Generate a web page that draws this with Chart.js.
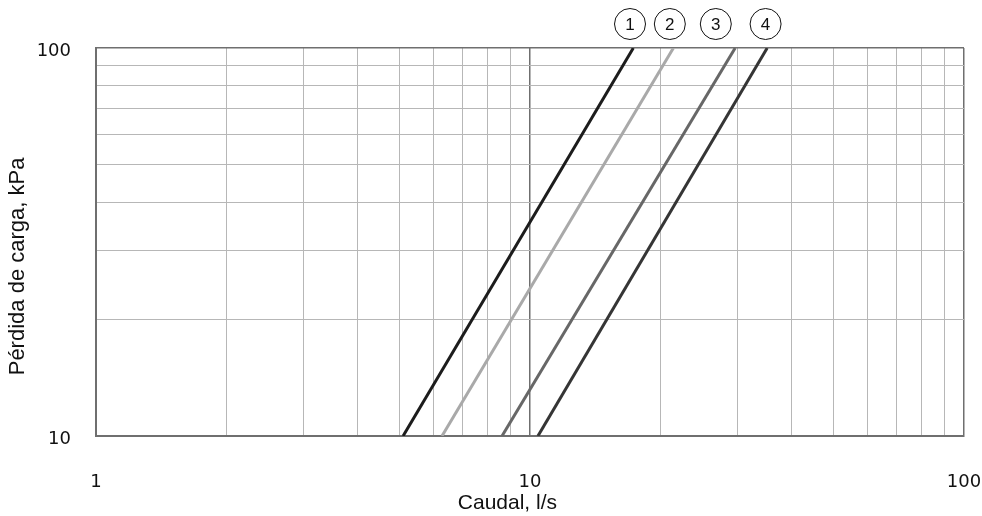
<!DOCTYPE html>
<html>
<head>
<meta charset="utf-8">
<script src="https://cdn.jsdelivr.net/npm/chart.js@4/dist/chart.umd.min.js"></script>
<style>
  html, body { margin: 0; padding: 0; background: #fff; }
  #wrap { width: 982px; height: 516px; }
</style>
</head>
<body>
<div id="wrap"><canvas id="chart" width="982" height="516"></canvas></div>
<script>
// pressure loss points (kPa) where each curve starts and ends
const lossPoints = [10, 100]
// flow (l/s) read at 10 kPa and 100 kPa for each curve
const curve1 = [5.10, 17.3]
const curve2 = [6.27, 21.4]
const curve3 = [8.62, 29.7]
const curve4 = [10.43, 35.2]
const curveNames = ["1", "2", "3", "4"]
// flow where the numbered circles sit above the plot
const tagFlows = [17.0, 21.0, 26.8, 34.9]

const xGrid = [1, 2, 3, 4, 5, 6, 7, 8, 9, 10, 20, 30, 40, 50, 60, 70, 80, 90, 100]
const yGrid = [10, 20, 30, 40, 50, 60, 70, 80, 90, 100]
const xLabels = [1, 10, 100]
const yLabels = [10, 100]
const xTitle = "Caudal, l/s"
const yTitle = "Pérdida de carga, kPa"

const colors = ["#1c1c1c", "#a9a9a9", "#676767", "#353535"]
const curves = [curve1, curve2, curve3, curve4]

const datasets = curves.map((c, i) => ({
  label: curveNames[i],
  data: c.map((q, j) => ({ x: q, y: lossPoints[j] })),
  borderColor: colors[i],
  borderWidth: 3,
  pointRadius: 0,
  fill: false,
}))

const majorColor = "#6f6f6f"
const minorColor = "#b7b7b7"
const gridStyle = (labels) => ({
  drawTicks: false,
  color: (ctx) => (labels.includes(ctx.tick && ctx.tick.value) || ctx.tick.value === 100 ? majorColor : minorColor),
  lineWidth: (ctx) => (labels.includes(ctx.tick && ctx.tick.value) ? 1.5 : 1),
})

// numbered circles above the curves
const tagPlugin = {
  id: "tags",
  afterDraw(chart) {
    const { ctx, chartArea, scales } = chart
    ctx.save()
    ctx.font = "17px 'Liberation Sans', Arial, sans-serif"
    ctx.textAlign = "center"
    ctx.textBaseline = "middle"
    tagFlows.forEach((q, i) => {
      const x = scales.x.getPixelForValue(q)
      const y = chartArea.top - 24
      ctx.beginPath()
      ctx.arc(x, y, 15.5, 0, Math.PI * 2)
      ctx.fillStyle = "#fff"
      ctx.fill()
      ctx.lineWidth = 1
      ctx.strokeStyle = "#111"
      ctx.stroke()
      ctx.fillStyle = "#111"
      ctx.fillText(curveNames[i], x, y + 1)
    })
    ctx.restore()
  },
}

// axis titles sit a bit off-centre in the original, so draw them by hand
const titlePlugin = {
  id: "axisTitles",
  afterDraw(chart) {
    const { ctx, chartArea, height } = chart
    ctx.save()
    ctx.fillStyle = "#111"
    ctx.textAlign = "center"
    ctx.textBaseline = "middle"
    ctx.font = "21px 'Liberation Sans', Arial, sans-serif"
    ctx.fillText(xTitle, chartArea.left + chartArea.width * 0.474, height - 13)
    ctx.translate(18, chartArea.top + chartArea.height * 0.563)
    ctx.rotate(-Math.PI / 2)
    ctx.font = "22px 'Liberation Sans', Arial, sans-serif"
    ctx.fillText(yTitle, 0, 0)
    ctx.restore()
  },
}

new Chart(document.getElementById("chart"), {
  type: "line",
  data: { datasets },
  plugins: [tagPlugin, titlePlugin],
  options: {
    responsive: false,
    animation: false,
    layout: { padding: { top: 48, right: 18, left: 0, bottom: 0 } },
    plugins: { legend: { display: false }, tooltip: { enabled: false } },
    scales: {
      x: {
        type: "logarithmic",
        min: 1,
        max: 100,
        afterBuildTicks: (scale) => { scale.ticks = xGrid.map((v) => ({ value: v })) },
        afterFit: (scale) => {
          scale.height = 80
          scale.paddingLeft = 0
          scale.paddingRight = 0
        },
        grid: gridStyle(xLabels),
        border: { color: majorColor, width: 2 },
        ticks: {
          autoSkip: false,
          maxRotation: 0,
          padding: 36,
          color: "#111",
          font: { family: "'DejaVu Sans', sans-serif", size: 18 },
          callback: (v) => (xLabels.includes(v) ? String(v) : ""),
        },
      },
      y: {
        type: "logarithmic",
        min: 10,
        max: 100,
        afterBuildTicks: (scale) => { scale.ticks = yGrid.map((v) => ({ value: v })) },
        afterFit: (scale) => {
          scale.width = 96
          scale.paddingTop = 0
          scale.paddingBottom = 0
        },
        grid: gridStyle(yLabels),
        border: { color: majorColor, width: 2 },
        ticks: {
          autoSkip: false,
          padding: 25,
          labelOffset: 3,
          color: "#111",
          font: { family: "'DejaVu Sans', sans-serif", size: 18 },
          callback: (v) => (yLabels.includes(v) ? String(v) : ""),
        },
      },
    },
  },
})
</script>
</body>
</html>
